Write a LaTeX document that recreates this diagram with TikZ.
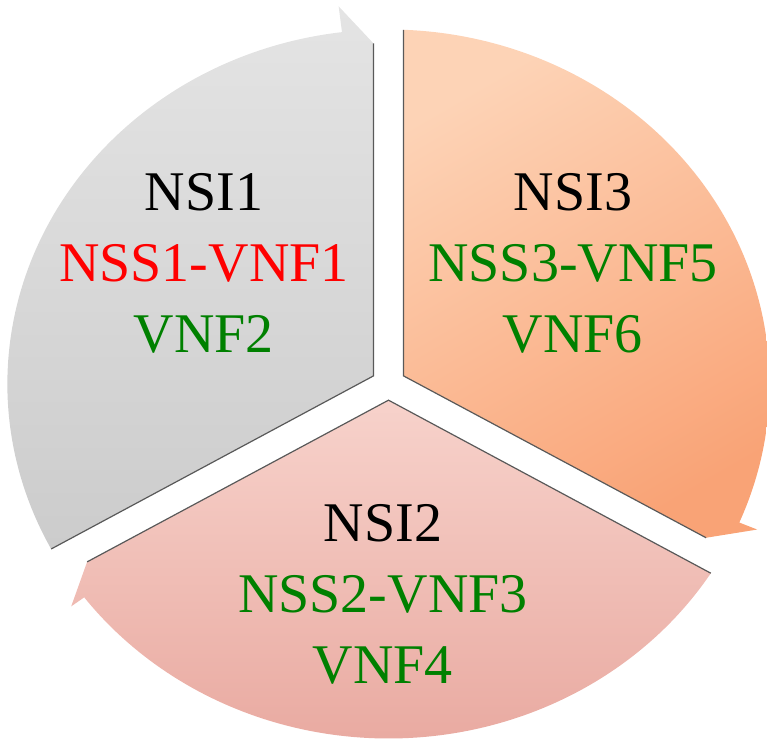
\documentclass[tikz,border=0pt]{standalone}
\usepackage{fontspec}
\setmainfont{Liberation Serif}
\definecolor{nsired}{RGB}{255,0,0}
\definecolor{nsigreen}{RGB}{0,128,0}
\definecolor{greytop}{RGB}{228,228,228}
\definecolor{greybot}{RGB}{204,204,204}
\definecolor{orangetop}{RGB}{253,211,182}
\definecolor{orangebot}{RGB}{249,163,118}
\definecolor{pinktop}{RGB}{247,210,203}
\definecolor{pinkbot}{RGB}{233,170,161}
\begin{document}
\begin{tikzpicture}[x=0.75pt,y=0.75pt]
        \tikzstyle{cutedge}=[draw=black!65,line width=0.9pt]
        \tikzstyle{nsitext}=[align=center,inner sep=0pt,font=\fontsize{42}{53.25}\selectfont]

        \useasboundingbox (-388.5,-366) rectangle (378.5,384);

        \begin{scope}[xscale=1.075]
        % NSI1 (grey)
        \coordinate (g0) at (150:16.17);
        \coordinate (g1) at (207.74:354.5);
        \coordinate (g2) at (97:380.5);
        \coordinate (g3) at (92.36:341);
        \shade[top color=greytop,bottom color=greybot] (g0) -- (g1) arc[start angle=207.74,end angle=97,radius=354.5] -- (g2) -- (g3) -- cycle;
        \draw[cutedge] (g3) -- (g0) -- (g1);

        % NSI3 (orange)
        \coordinate (o0) at (30:16.17);
        \coordinate (o1) at (87.74:354.5);
        \coordinate (o2) at (-23:372.5);
        \coordinate (o3) at (-27.5:333);
        \shade[top color=orangetop,bottom color=orangebot,shading angle=30] (o0) -- (o1) arc[start angle=87.74,end angle=-23,radius=354.5] -- (o2) -- (o3) -- cycle;
        \draw[cutedge] (o3) -- (o0) -- (o1);

        % NSI2 (pink)
        \coordinate (p0) at (-90:16.17);
        \coordinate (p1) at (-32.26:354.5);
        \coordinate (p2) at (-143:369.5);
        \coordinate (p3) at (-147.6:332);
        \shade[top color=pinktop,bottom color=pinkbot] (p0) -- (p1) arc[start angle=-32.26,end angle=-143,radius=354.5] -- (p2) -- (p3) -- cycle;
        \draw[cutedge] (p3) -- (p0) -- (p1);
        \end{scope}

        \node[nsitext] (nsi1) at (-184.5,121) {NSI1\\\textcolor{nsired}{NSS1-VNF1}\\\textcolor{nsigreen}{VNF2}};
        \node[nsitext] (nsi3) at (184.5,121) {NSI3\\\textcolor{nsigreen}{NSS3-VNF5}\\\textcolor{nsigreen}{VNF6}};
        \node[nsitext] (nsi2) at (-5.5,-210) {NSI2\\\textcolor{nsigreen}{NSS2-VNF3}\\\textcolor{nsigreen}{VNF4}};

    \end{tikzpicture}
\end{document}
